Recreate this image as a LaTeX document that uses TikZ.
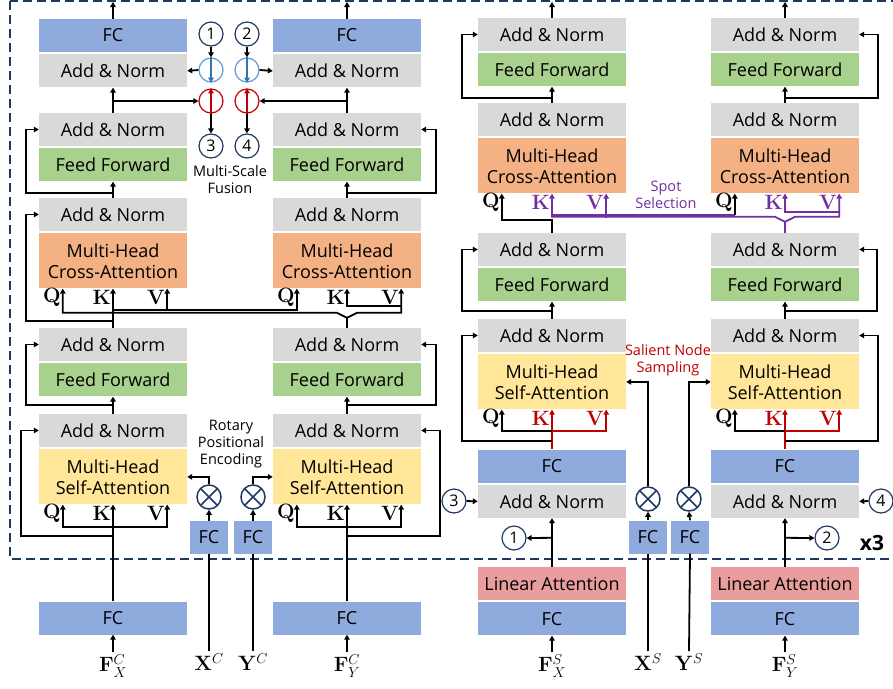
\documentclass[tikz,border=0pt]{standalone}
\usepackage[no-math]{fontspec}
\setmainfont{Open Sans}
\usepackage{amsmath}
\usetikzlibrary{arrows.meta, positioning, calc}

\definecolor{anGray}{HTML}{D9D9D9}
\definecolor{fcBlue}{HTML}{8FAADC}
\definecolor{ffGreen}{HTML}{A9D18E}
\definecolor{caOrange}{HTML}{F4B183}
\definecolor{saYellow}{HTML}{FFE699}
\definecolor{laPink}{HTML}{EA9D9D}
\definecolor{navy}{HTML}{203864}
\definecolor{fuseBlue}{HTML}{2E75B6}
\definecolor{ringBlue}{HTML}{5B9BD5}
\definecolor{salRed}{HTML}{C00000}
\definecolor{spotPurple}{HTML}{7030A0}

\begin{document}
\begin{tikzpicture}[x=1pt, y=-1pt,
  node distance=2pt,
  blk/.style={rectangle, inner sep=0pt, minimum width=148pt, minimum height=33pt,
              align=center, font=\fontsize{18}{21}\selectfont},
  anorm/.style={blk, fill=anGray},
  ffwd/.style={blk, fill=ffGreen},
  fcbox/.style={blk, fill=fcBlue},
  cross/.style={blk, fill=caOrange, minimum height=55pt},
  selfatt/.style={blk, fill=saYellow, minimum height=55pt},
  linatt/.style={blk, fill=laPink},
  smallfc/.style={blk, fill=fcBlue, minimum width=38pt},
  num/.style={circle, draw=navy, fill=white, line width=1.2pt, minimum size=24pt,
              inner sep=0pt, font=\fontsize{16}{16}\selectfont},
  ring/.style={circle, fill=white, line width=1.2pt, minimum size=24pt, inner sep=0pt},
  mul/.style={circle, draw=navy, fill=white, line width=1.5pt, minimum size=24pt, inner sep=0pt,
              path picture={\draw[navy, line width=1.5pt]
                (path picture bounding box.center) +(45:12pt) -- +(225:12pt)
                (path picture bounding box.center) +(135:12pt) -- +(315:12pt);}},
  ln/.style={line width=1.8pt},
  arr/.style={-{Triangle[length=5pt,width=5.5pt]}, line width=1.8pt, black},
  spotln/.style={draw=spotPurple},
  salln/.style={draw=salRed},
  qkv/.style={inner sep=0pt, font=\fontsize{19.5}{19.5}\selectfont},
  mlbl/.style={inner sep=2pt, font=\fontsize{22}{22}\selectfont},
  note/.style={align=center, inner sep=0pt, font=\fontsize{14.5}{17}\selectfont},
  loopbox/.style={draw=navy, line width=2.5pt, dash pattern=on 9pt off 5pt}
]
\useasboundingbox (0,0) rectangle (893,688);
\clip (0,0) rectangle (893,688);

%% repeated block (x3)
\draw[loopbox] (10,1) rectangle (905,559);

%% Left half: coarse streams
\foreach \c/\x in {X/113, Y/347}{
  \node[fcbox] (fc\c1) at (\x,35.5) {FC};
  \node[anorm, below=2pt of fc\c1] (an\c1) {Add \& Norm};
  \node[anorm] (an\c2) at (\x,129.5) {Add \& Norm};
  \node[ffwd, below=2pt of an\c2] (ff\c2) {Feed Forward};
  \node[anorm] (an\c3) at (\x,214.5) {Add \& Norm};
  \node[cross, below=2pt of an\c3] (ca\c3) {Multi-Head\\Cross-Attention};
  \node[anorm] (an\c4) at (\x,344.5) {Add \& Norm};
  \node[ffwd, below=2pt of an\c4] (ff\c4) {Feed Forward};
  \node[anorm] (an\c5) at (\x,430.5) {Add \& Norm};
  \node[selfatt, below=2pt of an\c5] (sa\c5) {Multi-Head\\Self-Attention};
  \node[fcbox] (fc\c6) at (\x,618) {FC};
}

%% Right half: fine streams
\foreach \c/\x in {SX/552, SY/785}{
  \node[anorm] (an\c1) at (\x,34.5) {Add \& Norm};
  \node[ffwd, below=2pt of an\c1] (ff\c1) {Feed Forward};
  \node[anorm] (an\c2) at (\x,119.5) {Add \& Norm};
  \node[cross, below=2pt of an\c2] (ca\c2) {Multi-Head\\Cross-Attention};
  \node[anorm] (an\c3) at (\x,249.5) {Add \& Norm};
  \node[ffwd, below=2pt of an\c3] (ff\c3) {Feed Forward};
  \node[anorm] (an\c4) at (\x,335.5) {Add \& Norm};
  \node[selfatt, below=2pt of an\c4] (sa\c4) {Multi-Head\\Self-Attention};
  \node[fcbox] (fc\c5) at (\x,466) {FC};
  \node[anorm, below=2pt of fc\c5] (an\c5) {Add \& Norm};
  \node[linatt] (la\c6) at (\x,583.5) {Linear Attention};
  \node[fcbox, below=2pt of la\c6] (fc\c6) {FC};
}

%% Q, K, V inputs
\foreach \b/\kc in {caX3/black, saX5/black, caY3/black, saY5/black,
                    caSX2/spotPurple, saSX4/salRed, caSY2/spotPurple, saSY4/salRed}{
  \coordinate (q\b) at ($(\b.south west)+(24,0)$);
  \coordinate (k\b) at (\b.south);
  \coordinate (v\b) at ($(\b.south east)+(-20,0)$);
  \node[qkv, anchor=east] (lq\b) at ($(q\b)+(-2,9)$) {$\mathbf{Q}$};
  \node[qkv, anchor=east, text=\kc] (lk\b) at ($(k\b)+(-2,9)$) {$\mathbf{K}$};
  \node[qkv, anchor=east, text=\kc] (lv\b) at ($(v\b)+(-2,9)$) {$\mathbf{V}$};
}

%% Side inputs
\node[smallfc] (pfX) at (209,537.5) {FC};
\node[smallfc] (pfY) at (253,537.5) {FC};
\node[mul] (mX) at (209,497) {};
\node[mul] (mY) at (253,497) {};
\node[smallfc] (pfSX) at (648,537) {FC};
\node[smallfc] (pfSY) at (690,537) {FC};
\node[mul] (mSX) at (648,499) {};
\node[mul] (mSY) at (689,499) {};

%% Multi-scale fusion
\node[num] (fz1) at (211,34) {1};
\node[num] (fz2) at (247,34) {2};
\node[ring, draw=ringBlue] (bfX) at (211,70) {};
\node[ring, draw=ringBlue] (bfY) at (247,70) {};
\node[ring, draw=salRed] (rfX) at (211,101) {};
\node[ring, draw=salRed] (rfY) at (247,101) {};
\node[num] (fz3) at (211,146) {3};
\node[num] (fz4) at (247,146) {4};
\node[num] (c1) at (514,538) {1};
\node[num] (c2) at (827,538) {2};
\node[num] (c3) at (454,501) {3};
\node[num] (c4) at (881,501) {4};

%% Notes
\node[note] (msf) at (230,179.5) {Multi-Scale\\Fusion};
\node[note] (rope) at (231,444.5) {Rotary\\Positional\\Encoding};
\node[note, text=spotPurple] (spot) at (666,194.5) {Spot\\Selection};
\node[note, text=salRed] (salient) at (668,360.5) {Salient Node\\Sampling};
\node[font=\fontsize{21}{21}\selectfont\bfseries] (rep) at (872,543) {x3};

%% Inputs
\node[mlbl] (fX) at (113,666) {$\mathbf{F}_X^C$};
\node[mlbl] (xC) at (209,662) {$\mathbf{X}^C$};
\node[mlbl] (yC) at (253,662) {$\mathbf{Y}^C$};
\node[mlbl] (fY) at (347,666) {$\mathbf{F}_Y^C$};
\node[mlbl] (fXS) at (552,666) {$\mathbf{F}_X^S$};
\node[mlbl] (xS) at (648,662) {$\mathbf{X}^S$};
\node[mlbl] (yS) at (689,662) {$\mathbf{Y}^S$};
\node[mlbl] (fYS) at (785,666) {$\mathbf{F}_Y^S$};
\coordinate (outX) at (113,2);
\coordinate (outY) at (347,2);
\coordinate (outSX) at (552,2);
\coordinate (outSY) at (785,2);

%% Left half: column X
\draw[arr] (fcX1.north) -- (outX);
\draw[arr] (anX2.north) -- (anX1.south);
\draw[arr] (anX3.north) -- (ffX2.south);
\draw[arr] (anX3.north) ++(0,-5) -- ++(-87,0) |- (anX2.west);
\draw[arr] (anX4.north) -- (kcaX3);
\draw[arr] (anX4.north) ++(0,-7) -- ++(-87,0) |- (anX3.west);
\draw[arr] (anX5.north) -- (ffX4.south);
\draw[arr] (anX5.north) ++(0,-9) -- ++(-87,0) |- (anX4.west);
\draw[arr] (fcX6.north) -- (ksaX5);
\draw[arr] (fcX6.north) ++(0,-74) -| (qsaX5);
\draw[arr] (fcX6.north) ++(0,-74) -| (vsaX5);
\draw[arr] (fcX6.north) ++(0,-65) -- ++(-92,0) |- (anX5.west);
\draw[arr] (fX.north) -- (fcX6.south);

%% Left half: column Y
\draw[arr] (fcY1.north) -- (outY);
\draw[arr] (anY2.north) -- (anY1.south);
\draw[arr] (anY3.north) -- (ffY2.south);
\draw[arr] (anY3.north) ++(0,-5) -- ++(89,0) |- (anY2.east);
\draw[arr] (anY5.north) -- (ffY4.south);
\draw[arr] (anY5.north) ++(0,-9) -- ++(89,0) |- (anY4.east);
\draw[arr] (fcY6.north) -- (ksaY5);
\draw[arr] (fcY6.north) ++(0,-74) -| (qsaY5);
\draw[arr] (fcY6.north) ++(0,-74) -| (vsaY5);
\draw[arr] (fcY6.north) ++(0,-65) -- ++(93,0) |- (anY5.east);
\draw[arr] (fY.north) -- (fcY6.south);

%% Left half: crossing between streams
\draw[arr] (anX4.north) ++(0,-18) -| (qcaY3);
\draw[arr] (vcaX3) ++(0,22) -- (vcaX3);
\draw[arr] (anY4.north) -- ++(0,-10) -- ++(-10,-5) -| (qcaX3);
\draw[arr] (anY4.north) ++(0,-10) -- ++(10,-5) -| (vcaY3);
\draw[arr] (vcaY3) ++(0,17) -| (kcaY3);

%% Left half: fusion
\draw[arr] (fz1.south) -- (bfX.north);
\draw[arr] (fz2.south) -- (bfY.north);
\draw[arr, draw=fuseBlue] (bfX.north) -- (bfX.south);
\draw[arr, draw=fuseBlue] (bfY.north) -- (bfY.south);
\draw[arr] (bfX.west) -- (anX1.east);
\draw[arr] (bfY.east) -- (anY1.west);
\draw[arr] (anX2.north |- rfX) -- (rfX.west);
\draw[arr] (anY2.north |- rfY) -- (rfY.east);
\draw[arr, salln] (rfX.south) -- (rfX.north);
\draw[arr, salln] (rfY.south) -- (rfY.north);
\draw[arr] (rfX.south) -- (fz3.north);
\draw[arr] (rfY.south) -- (fz4.north);

%% Left half: positional encoding
\draw[ln] (xC.north) -- (pfX.south);
\draw[ln] (yC.north) -- (pfY.south);
\draw[arr] (pfX.north) -- (mX.south);
\draw[arr] (pfY.north) -- (mY.south);
\draw[arr] (mX.north) |- (saX5.east);
\draw[arr] (mY.north) |- (saY5.west);

%% Right half: column SX
\draw[arr] (anSX1.north) -- (outSX);
\draw[arr] (anSX2.north) -- (ffSX1.south);
\draw[arr] (anSX2.north) ++(0,-5) -- ++(-90,0) |- (anSX1.west);
\draw[arr] (anSX3.north) -- ++(0,-13) -| (qcaSX2);
\draw[arr] (anSX4.north) -- (ffSX3.south);
\draw[arr] (anSX4.north) ++(0,-8) -- ++(-90,0) |- (anSX3.west);
\draw[arr, salln] (fcSX5.north) -- (ksaSX4);
\draw[arr, salln] (fcSX5.north) ++(0,-18) -| (vsaSX4);
\draw[arr] (fcSX5.north) ++(0,-18) -| (qsaSX4);
\draw[arr] (fcSX5.north) ++(0,-8) -- ++(-90,0) |- (anSX4.west);
\draw[arr] (laSX6.north) -- (anSX5.south);
\draw[arr] (laSX6.north) ++(0,-29) -- (c1.east);
\draw[arr] (c3.east) -- (anSX5.west);
\draw[arr] (fXS.north) -- (fcSX6.south);

%% Right half: column SY
\draw[arr] (anSY1.north) -- (outSY);
\draw[arr] (anSY2.north) -- (ffSY1.south);
\draw[arr] (anSY2.north) ++(0,-5) -- ++(93,0) |- (anSY1.east);
\draw[arr] (anSY4.north) -- (ffSY3.south);
\draw[arr] (anSY4.north) ++(0,-8) -- ++(92,0) |- (anSY3.east);
\draw[arr, salln] (fcSY5.north) -- (ksaSY4);
\draw[arr, salln] (fcSY5.north) ++(0,-18) -| (vsaSY4);
\draw[arr] (fcSY5.north) ++(0,-18) -| (qsaSY4);
\draw[arr] (fcSY5.north) ++(0,-8) -- ++(93,0) |- (anSY4.east);
\draw[arr] (laSY6.north) -- (anSY5.south);
\draw[arr] (laSY6.north) ++(0,-29) -- (c2.west);
\draw[arr] (c4.west) -- (anSY5.east);
\draw[arr] (fYS.north) -- (fcSY6.south);

%% Right half: spot selection
\draw[ln, spotln] ($(kcaSX2)+(0,21)$) -- ($(qcaSY2)+(0,21)$);
\draw[arr] (qcaSY2) ++(0,21) -- (qcaSY2);
\draw[arr, spotln] (anSY3.north) -- ++(0,-11) -- ++(-10,-5) -| (kcaSX2);
\draw[arr, spotln] (vcaSX2) ++(0,24) -- (vcaSX2);
\draw[arr, spotln] (anSY3.north) ++(0,-11) -- ++(10,-5) -| (vcaSY2);
\draw[arr, spotln] (vcaSY2) ++(0,18) -| (kcaSY2);

%% Right half: node sampling
\draw[ln] (xS.north) -- (pfSX.south);
\draw[ln] (yS.north) -- (pfSY.south);
\draw[arr] (pfSX.north) -- (mSX.south);
\draw[arr] (pfSY.north) -- (mSY.south);
\draw[arr] (mSX.north) |- (saSX4.east);
\draw[arr] (mSY.north) |- (saSY4.west);
\end{tikzpicture}
\end{document}
